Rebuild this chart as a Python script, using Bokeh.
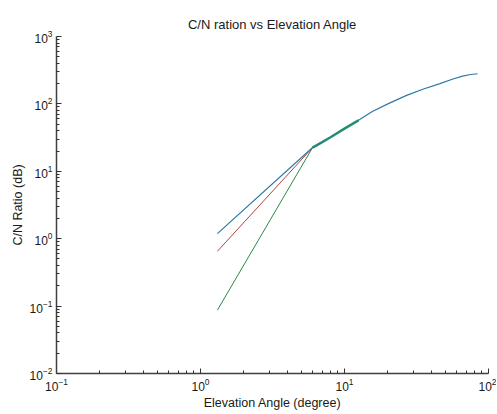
from bokeh.plotting import figure
from bokeh.models import FixedTicker, Range1d, LogTickFormatter
from bokeh.embed import file_html
from bokeh.resources import INLINE

# Data
elev_blue = [1.31, 6.0, 7.0, 8.0, 10.0, 12.5, 15.6, 20.0, 27.0, 35.0, 46.0, 56.0, 66.0, 75.0, 84.0]
cn_blue = [1.19, 22.5, 27.0, 32.0, 43.0, 57.0, 77.0, 100.0, 134.0, 165.0, 200.0, 232.0, 258.0, 273.0, 280.0]
elev_red = [1.31, 6.0, 7.0]
cn_red = [0.65, 22.5, 27.0]
elev_green = [1.31, 6.0, 7.0, 8.0, 10.0, 12.5]
cn_green = [0.087, 22.5, 27.0, 32.0, 43.0, 57.0]

# Axis ticks
x_major = [0.1, 1, 10, 100]
y_major = [0.01, 0.1, 1, 10, 100, 1000]
multipliers = [2, 3, 4, 5, 6, 7, 8, 9]

FONT = "Liberation Sans"

p = figure(x_axis_type="log", y_axis_type="log",
           frame_width=432, frame_height=337,
           x_range=Range1d(0.1, 100), y_range=Range1d(0.01, 1000),
           output_backend="svg", toolbar_location=None,
           title="C/N ration vs Elevation Angle",
           x_axis_label="Elevation Angle (degree)", y_axis_label="C/N Ratio (dB)",
           min_border_left=56, min_border_right=8, min_border_top=36, min_border_bottom=30)

p.title.align = "center"
p.title.text_font = FONT
p.title.text_font_size = "13px"
p.title.text_font_style = "normal"
p.title.text_color = "#1a1a1a"
p.title.standoff = 10

p.outline_line_color = None
p.grid.grid_line_color = None
p.background_fill_color = "white"
p.border_fill_color = "white"

x_minor = [d * m for d in x_major[:-1] for m in multipliers]
y_minor = [d * m for d in y_major[:-1] for m in multipliers]
p.xaxis[0].ticker = FixedTicker(ticks=x_major, minor_ticks=x_minor)
p.yaxis[0].ticker = FixedTicker(ticks=y_major, minor_ticks=y_minor)

for ax in (p.xaxis[0], p.yaxis[0]):
    ax.formatter = LogTickFormatter()
    ax.axis_line_color = "#404040"
    ax.axis_line_width = 1.5
    ax.major_tick_line_color = "#303030"
    ax.minor_tick_line_color = "#303030"
    ax.major_tick_line_width = 1
    ax.minor_tick_line_width = 1
    ax.major_tick_in = 5
    ax.major_tick_out = 0
    ax.minor_tick_in = 3
    ax.minor_tick_out = 0
    ax.major_label_text_font = FONT
    ax.major_label_text_font_size = "12px"
    ax.major_label_text_color = "#1a1a1a"
    ax.axis_label_text_font = FONT
    ax.axis_label_text_font_size = "12.5px"
    ax.axis_label_text_font_style = "normal"
    ax.axis_label_text_color = "#1a1a1a"
    ax.major_label_standoff = 4
    ax.axis_label_standoff = 2

p.line(elev_green, cn_green, line_color="#2a8a4a", line_width=1)
p.line(elev_green[1:], cn_green[1:], line_color="#22a84a", line_width=2.6)
p.line(elev_red, cn_red, line_color="#a8483e", line_width=1)
p.line(elev_blue, cn_blue, line_color="#2d78a8", line_width=1.2)

open("out.html", "w").write(file_html(p, INLINE))
